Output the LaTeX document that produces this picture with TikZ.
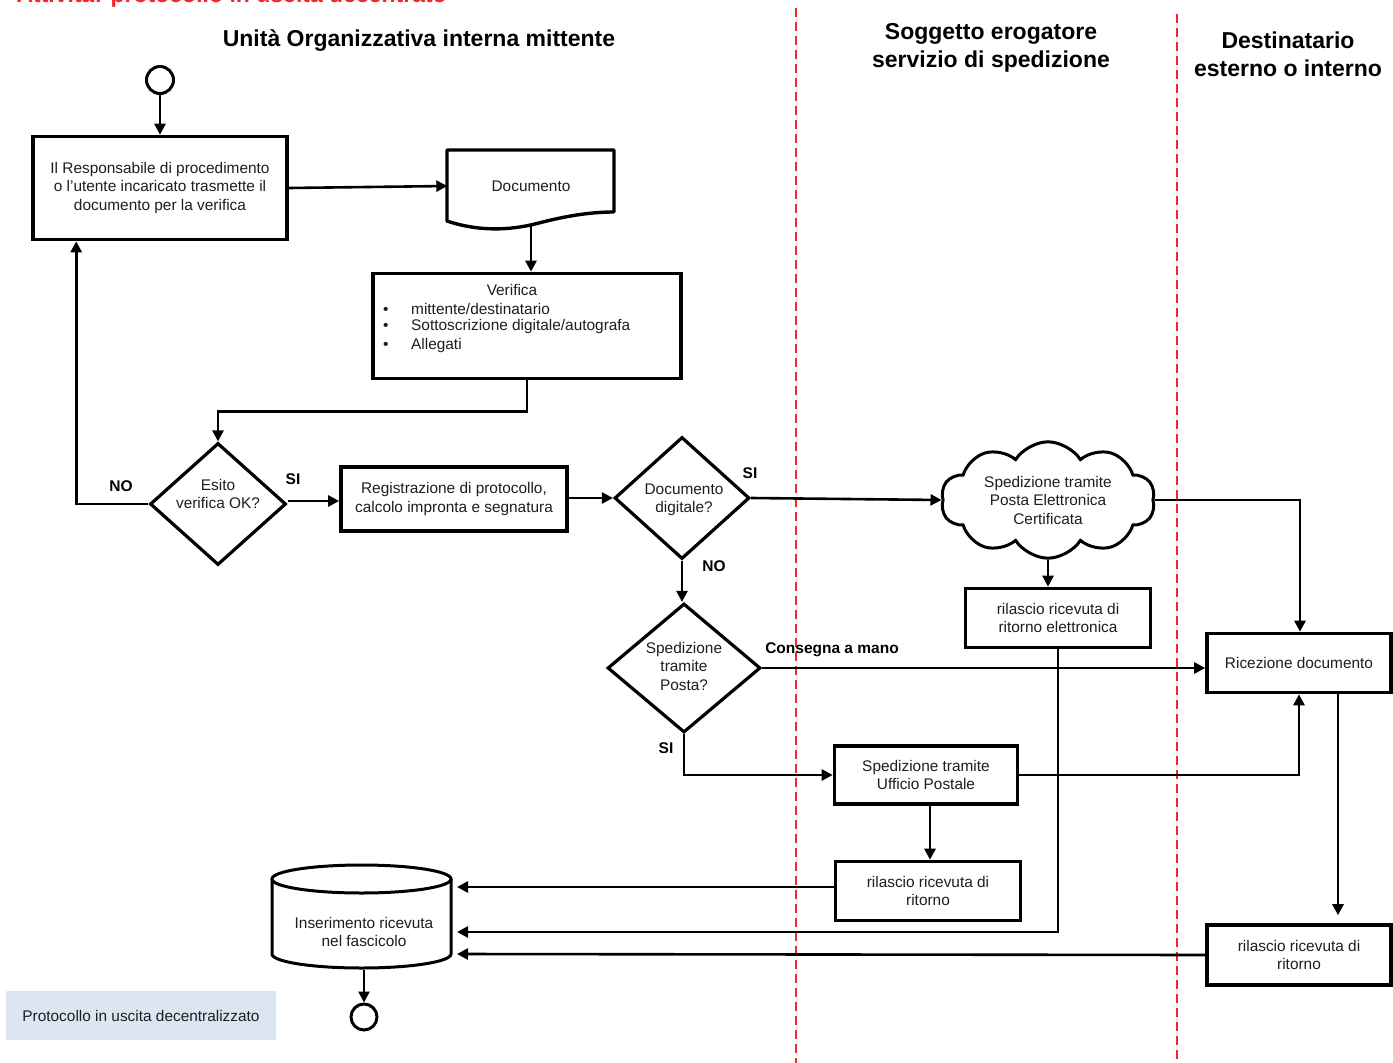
\documentclass[tikz,border=0pt]{standalone}
\usepackage{fontspec}
\setmainfont{Liberation Sans}
\usetikzlibrary{shapes.geometric,shapes.symbols,arrows.meta,calc}
\definecolor{ink}{HTML}{1E1E1E}
\definecolor{lane}{HTML}{F02828}
\definecolor{tag}{HTML}{DCE6F2}
\tikzset{
  every node/.style={font=\fontsize{15.4}{18.5}\selectfont, text=ink},
  stepbox/.style={draw=black, line width=3.6pt, rectangle, align=center, inner sep=2pt},
  choice/.style={draw=black, line width=3.2pt, diamond, align=center, inner sep=0pt},
  arr/.style={draw=black, line width=2.6pt, -{Triangle[length=11pt,width=11pt]}},
  plain/.style={draw=black, line width=2.6pt},
  lbl/.style={font=\fontsize{15.5}{18}\selectfont\bfseries, text=black},
  head/.style={font=\fontsize{23}{28}\selectfont\bfseries, text=black, align=center},
  lanesep/.style={draw=lane, line width=2.6pt, dash pattern=on 9pt off 5pt},
  term/.style={draw=black, line width=3pt, circle, inner sep=0pt, minimum size=27pt}
}
\begin{document}
\begin{tikzpicture}[x=1pt,y=-1pt]
\useasboundingbox (0,0) rectangle (1393,1063);
\clip (0,0) rectangle (1393,1063);
\fill[white] (0,0) rectangle (1393,1063);

% page title (runs off the top edge)
\node[anchor=base east, inner sep=0pt, font=\fontsize{23}{28}\selectfont\bfseries, text=lane] (title) at (447,2) {Attività: protocollo in uscita decentrato};

% swimlane separators
\draw[lanesep] (796,8) -- (796,1063);
\draw[lanesep] (1177,14) -- (1177,1063);

% lane headings
\node[head] (h1) at (419,41) {Unità Organizzativa interna mittente};
\node[head] (h2) at (991,48) {Soggetto erogatore\\servizio di spedizione};
\node[head] (h3) at (1288,54) {Destinatario\\esterno o interno};

% start
\node[term] (start) at (160,80) {};

% responsible sends document
\node[stepbox, minimum width=254, minimum height=103] (resp) at (160,188)
  {Il Responsabile di procedimento\\o l'utente incaricato trasmette il\\documento per la verifica};

% document shape
\node[minimum width=167, minimum height=75, inner sep=0pt] (doc) at (531,186) {Documento};
\draw[line width=3.4pt, line join=round]
  (447,150) -- (614,150) -- (614,212)
  .. controls (590,212) and (565,216) .. (535,224)
  .. controls (510,230) and (480,232) .. (447,221) -- cycle;

% checks
\node[stepbox, minimum width=308, minimum height=105] (ver) at (527,326) {};
\node (vtit) at (512,290) {Verifica};
\node[anchor=west, inner sep=0pt] (v1) at (383,309) {\makebox[28pt][l]{\textbullet}mittente/destinatario};
\node[anchor=west, inner sep=0pt] (v2) at (383,327) {\makebox[28pt][l]{\textbullet}Sottoscrizione digitale/autografa};
\node[anchor=west, inner sep=0pt] (v3) at (383,346) {\makebox[28pt][l]{\textbullet}Allegati};

% decisions
\node[choice, minimum width=136, minimum height=122] (d1) at (218,504) {};
\node[align=center, inner sep=0pt] (d1t) at (218,494) {Esito\\verifica OK?};
\node[stepbox, minimum width=226, minimum height=64] (reg) at (454,499)
  {Registrazione di protocollo,\\calcolo impronta e segnatura};
\node[choice, minimum width=135, minimum height=122] (d2) at (682,498) {};
\node[align=center, inner sep=0pt] (d2t) at (684,500) {Documento\\digitale?};
\node[choice, minimum width=153, minimum height=129] (d3) at (684,668) {};
\node[align=center, inner sep=0pt] (d3t) at (684,666) {Spedizione\\tramite\\Posta?};

% shipping service lane
\node[cloud, draw=black, line width=3pt, cloud puffs=10, cloud puff arc=115, aspect=2,
      minimum width=214, minimum height=104, align=center, inner sep=0pt] (pec) at (1048,500)
  {Spedizione tramite\\Posta Elettronica\\Certificata};
\node[stepbox, minimum width=185, minimum height=59] (rile) at (1058,618)
  {rilascio ricevuta di\\ritorno elettronica};
\node[stepbox, minimum width=183, minimum height=58] (upo) at (926,775)
  {Spedizione tramite\\Ufficio Postale};
\node[stepbox, minimum width=185, minimum height=59] (ril1) at (928,891)
  {rilascio ricevuta di\\ritorno};

% recipient lane
\node[stepbox, minimum width=184, minimum height=59] (rec) at (1299,663) {Ricezione documento};
\node[stepbox, minimum width=184, minimum height=60] (ril2) at (1299,955)
  {rilascio ricevuta di\\ritorno};

% archive cylinder
\draw[line width=3pt] (272,879) -- (272,954)
  arc[start angle=180, end angle=0, x radius=89.5, y radius=14] -- (451,879);
\draw[line width=3pt] (361.5,879) ellipse[x radius=89.5, y radius=14];
\node[minimum width=179, align=center, inner sep=0pt] (cyl) at (364,932)
  {Inserimento ricevuta\\nel fascicolo};
\coordinate (cinA) at (457,887);
\coordinate (cinB) at (457,932);
\coordinate (cinC) at (457,954);
\coordinate (cylbot) at (364,970);

% end
\node[term, minimum size=26pt] (stop) at (364,1017) {};

% legend tag
\node[fill=tag, minimum width=270, minimum height=49, inner sep=0pt] (legend) at (141,1015.5)
  {Protocollo in uscita decentralizzato};

% connectors
\draw[arr] (start) -- (resp);
\draw[arr] (resp.east) -- (doc.west);
\draw[arr] (doc.south) -- (doc.south |- ver.north);
\draw[arr] (ver.south) -- ++(0,31) -| (d1.north);
\draw[arr] (d1.west) -| ($(resp.south west)+(45,0)$);
\draw[arr] ($(d1.east)+(0,-3)$) coordinate (e1) -- (e1 -| reg.west);
\draw[arr] (reg.east |- d2.west) -- (d2.west);
\draw[arr] (d2.east) -- (pec.west);
\draw[arr] (d2.south) -- (d2.south |- d3.north);
\draw[arr] (d3.east) -- (d3.east -| rec.west);
\draw[arr] (d3.south) |- (upo.west);
\draw[arr] (upo.east) -| (rec.south);
\draw[arr] ($(upo.south)+(4,0)$) coordinate (u1) -- (u1 |- ril1.north);
\draw[arr] (ril1.west |- cinA) -- (cinA);
\draw[arr] (pec.south) -- (pec.south |- rile.north);
\draw[line width=1.8pt] (rile.south) -- (rile.south |- cinB) -- ($(cinB)+(20,0)$);
\draw[arr] ($(cinB)+(22,0)$) -- (cinB);
\draw[plain] (pec.east) -| ($(rec.north)+(1,-30)$);
\draw[arr] ($(rec.north)+(1,-31)$) -- ($(rec.north)+(1,0)$);
\draw[arr] ($(rec.south)+(39,0)$) -- ($(ril2.north)+(39,-8)$);
\draw[arr] (ril2.west) -- (cinC);
\draw[arr] (cylbot) -- (stop.north);

% branch labels
\node[lbl] (no1) at (121,486) {NO};
\node[lbl] (si1) at (293,479) {SI};
\node[lbl] (si2) at (750,473) {SI};
\node[lbl] (no2) at (714,566) {NO};
\node[lbl] (si3) at (666,748) {SI};
\node[lbl] (cam) at (832,650) {Consegna a mano};
\end{tikzpicture}
\end{document}
